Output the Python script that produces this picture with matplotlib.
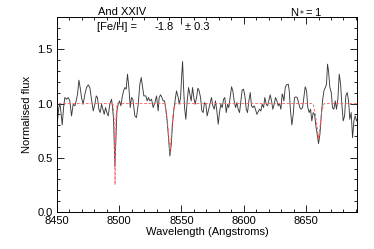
import numpy as np
import matplotlib
matplotlib.use("Agg")
import matplotlib.pyplot as plt
from matplotlib.ticker import MultipleLocator

plt.rcParams['font.family'] = ['Liberation Sans', 'DejaVu Sans']

wave = [8449.2, 8450.5, 8451.6, 8452.4, 8453.2, 8454.3, 8455.4, 8456.4, 8457.8, 8459.1,
        8460.4, 8461.8, 8463.1, 8464.5, 8465.5, 8466.6, 8467.7, 8468.7, 8469.8, 8471.1,
        8472.5, 8473.8, 8475.2, 8476.5, 8477.8, 8479.2, 8480.5, 8481.6, 8482.6, 8483.7,
        8484.8, 8485.9, 8486.9, 8488.0, 8489.1, 8490.1, 8491.2, 8492.5, 8493.9, 8494.7,
        8495.5, 8496.6, 8497.4, 8498.2, 8499.2, 8500.3, 8501.4, 8502.4, 8503.5, 8504.6,
        8505.6, 8506.7, 8507.8, 8508.9, 8509.9, 8511.0,
        8512.6, 8513.9, 8515.3, 8516.6, 8517.7, 8518.8, 8519.8, 8521.4, 8522.5, 8523.6,
        8524.6, 8526.0, 8527.3, 8528.7, 8530.0, 8531.3, 8532.1, 8533.2, 8534.3, 8535.3,
        8536.4, 8537.5, 8538.5, 8539.6, 8540.7, 8541.8, 8542.8, 8543.9, 8545.0, 8546.0,
        8547.4, 8548.2, 8549.3, 8550.1, 8550.9, 8551.7, 8552.5, 8553.5, 8554.6, 8555.7,
        8556.7, 8557.8, 8558.9, 8559.9, 8561.0, 8562.1, 8563.2, 8564.2, 8565.3, 8566.4,
        8567.4, 8568.5, 8569.6, 8570.6,
        8572.8, 8574.1, 8575.2, 8576.3, 8577.3, 8578.4, 8579.5, 8580.5, 8581.6, 8582.7,
        8583.8, 8584.8, 8585.9, 8587.0, 8588.0, 8589.1, 8590.2, 8591.2, 8592.3, 8593.4,
        8594.5, 8595.5, 8596.6, 8597.7, 8598.7, 8599.8, 8600.9, 8602.0, 8603.0, 8604.1,
        8605.2, 8606.2, 8607.3, 8608.4, 8609.4, 8610.5, 8611.6, 8612.6, 8613.7, 8614.8,
        8615.9, 8616.9, 8618.0, 8619.1, 8620.1, 8621.2, 8622.3, 8623.3, 8624.4, 8625.5,
        8626.6, 8627.6, 8628.7, 8629.8, 8630.8,
        8631.1, 8632.2, 8633.3, 8634.3, 8635.7, 8636.5, 8637.5, 8638.6, 8639.7, 8640.7,
        8641.8, 8642.9, 8644.0, 8645.0, 8646.1, 8647.2, 8648.2, 8649.3, 8650.4, 8651.4,
        8652.5, 8653.6, 8654.6, 8655.7, 8656.8, 8657.9, 8658.9, 8660.0, 8661.1, 8662.1,
        8663.2, 8664.3, 8665.4, 8666.4, 8667.2, 8668.0, 8669.1, 8670.2, 8671.2, 8672.3,
        8673.4, 8674.4, 8675.5, 8676.6, 8677.7, 8678.7, 8679.8, 8680.9, 8681.9, 8683.0,
        8684.1, 8685.1, 8686.2, 8687.3, 8688.4, 8689.4, 8690.5, 8691.6]
flux = [0.886, 0.840, 0.963, 1.000, 0.932, 0.803, 0.963, 1.056, 1.040, 1.056,
        1.025, 0.886, 0.994, 0.979, 1.025, 1.087, 1.216, 1.148, 1.056, 0.994,
        1.087, 1.148, 1.173, 1.148, 1.040, 0.932, 0.994, 1.071, 1.056, 0.948,
        0.917, 0.994, 0.948, 0.901, 0.963, 0.917, 0.886, 0.994, 1.040, 0.963,
        0.855, 0.420, 0.685, 0.932, 0.994, 1.025, 0.979, 1.056, 1.117, 1.148,
        1.133, 1.272, 1.148, 0.963, 1.056, 1.040,
        0.886, 0.871, 0.994, 1.179, 1.241, 1.148, 1.071, 1.071, 1.025, 1.056,
        1.025, 1.040, 0.963, 1.009, 1.071, 0.932, 1.056, 1.081, 1.056, 1.025,
        1.025, 0.948, 0.840, 0.685, 0.516, 0.624, 0.809, 0.948, 1.040, 1.117,
        1.056, 0.994, 1.056, 1.241, 1.389, 1.148, 0.963, 0.855, 1.025, 1.148,
        1.087, 1.025, 1.148, 1.056, 0.994, 1.056, 1.142, 1.117, 1.056, 0.932,
        0.917, 1.009, 0.994, 0.886,
        0.994, 1.056, 0.979, 0.948, 1.025, 0.932, 0.809, 0.917, 0.994, 0.963,
        1.040, 1.056, 0.917, 0.994, 0.963, 1.056, 1.155, 1.117, 1.025, 0.963,
        1.009, 0.948, 0.917, 1.025, 1.124, 1.133, 1.071, 0.948, 0.917, 1.025,
        1.102, 0.979, 0.963, 0.979, 0.948, 0.901, 0.926, 0.948, 0.932, 0.994,
        0.963, 1.056, 0.994, 0.979, 1.025, 1.081, 1.025, 0.948, 0.994, 1.056,
        1.025, 0.979, 1.000, 0.948, 1.087,
        1.087, 1.025, 1.148, 1.173, 1.179, 1.117, 0.932, 0.803, 0.901, 1.056,
        1.062, 1.056, 1.009, 0.963, 0.948, 0.963, 1.056, 1.155, 1.117, 0.963,
        0.917, 0.948, 0.840, 0.917, 0.901, 0.793, 0.716, 0.630, 0.716, 0.871,
        1.025, 1.117, 1.148, 1.179, 1.364, 1.303, 1.148, 1.102, 0.963, 0.948,
        1.025, 0.948, 1.040, 1.272, 1.179, 0.994, 0.840, 0.886, 1.071, 1.102,
        1.025, 0.855, 0.917, 0.685, 0.840, 0.886, 0.840, 0.871]

# model fit (red dashed)
model_wave = [8448.0, 8495.0, 8496.0, 8496.7, 8497.4, 8498.3,
              8536.5, 8538.5, 8539.6, 8540.7, 8541.8, 8543.0, 8545.0,
              8655.5, 8657.5, 8658.9, 8660.0, 8661.1, 8662.5, 8664.5, 8692.0]
model_flux = [1.0, 1.0, 0.85, 0.25, 0.85, 1.0,
              1.0, 0.87, 0.72, 0.55, 0.70, 0.88, 1.0,
              1.0, 0.90, 0.78, 0.68, 0.78, 0.92, 1.0, 1.0]

fig = plt.figure(figsize=(3.74, 2.49), dpi=100)
ax = fig.add_axes([0.152, 0.149, 0.803, 0.783])

ax.plot(wave, flux, color='#3a3a3a', lw=0.65)
ax.plot(model_wave, model_flux, color='#ff6060', lw=0.65, ls=(0, (3, 2)))

ax.set_xlim(8450, 8691)
ax.set_ylim(0.0, 1.8)
ax.xaxis.set_major_locator(MultipleLocator(50))
ax.xaxis.set_minor_locator(MultipleLocator(10))
ax.yaxis.set_major_locator(MultipleLocator(0.5))
ax.yaxis.set_minor_locator(MultipleLocator(0.1))
ax.yaxis.set_major_formatter(plt.FormatStrFormatter('%.1f'))
ax.tick_params(which='both', direction='in', top=True, right=True,
               labelsize=8, width=0.6, pad=3)
ax.tick_params(which='major', length=5)
ax.tick_params(which='minor', length=2.5)
for s in ax.spines.values():
    s.set_linewidth(0.7)

ax.set_xlabel('Wavelength (Angstroms)', fontsize=8, labelpad=1)
ax.set_ylabel('Normalised flux', fontsize=8, labelpad=4)

fig.text(0.262, 0.94, 'And XXIV', fontsize=8)
fig.text(0.775, 0.94, r'N$_*$= 1', fontsize=8)
fig.text(0.26, 0.88, '[Fe/H] =', fontsize=8)
fig.text(0.413, 0.88, '-1.8', fontsize=8)
fig.text(0.495, 0.88, u'\u00b1 0.3', fontsize=8)

fig.savefig('out.png', dpi=100)
